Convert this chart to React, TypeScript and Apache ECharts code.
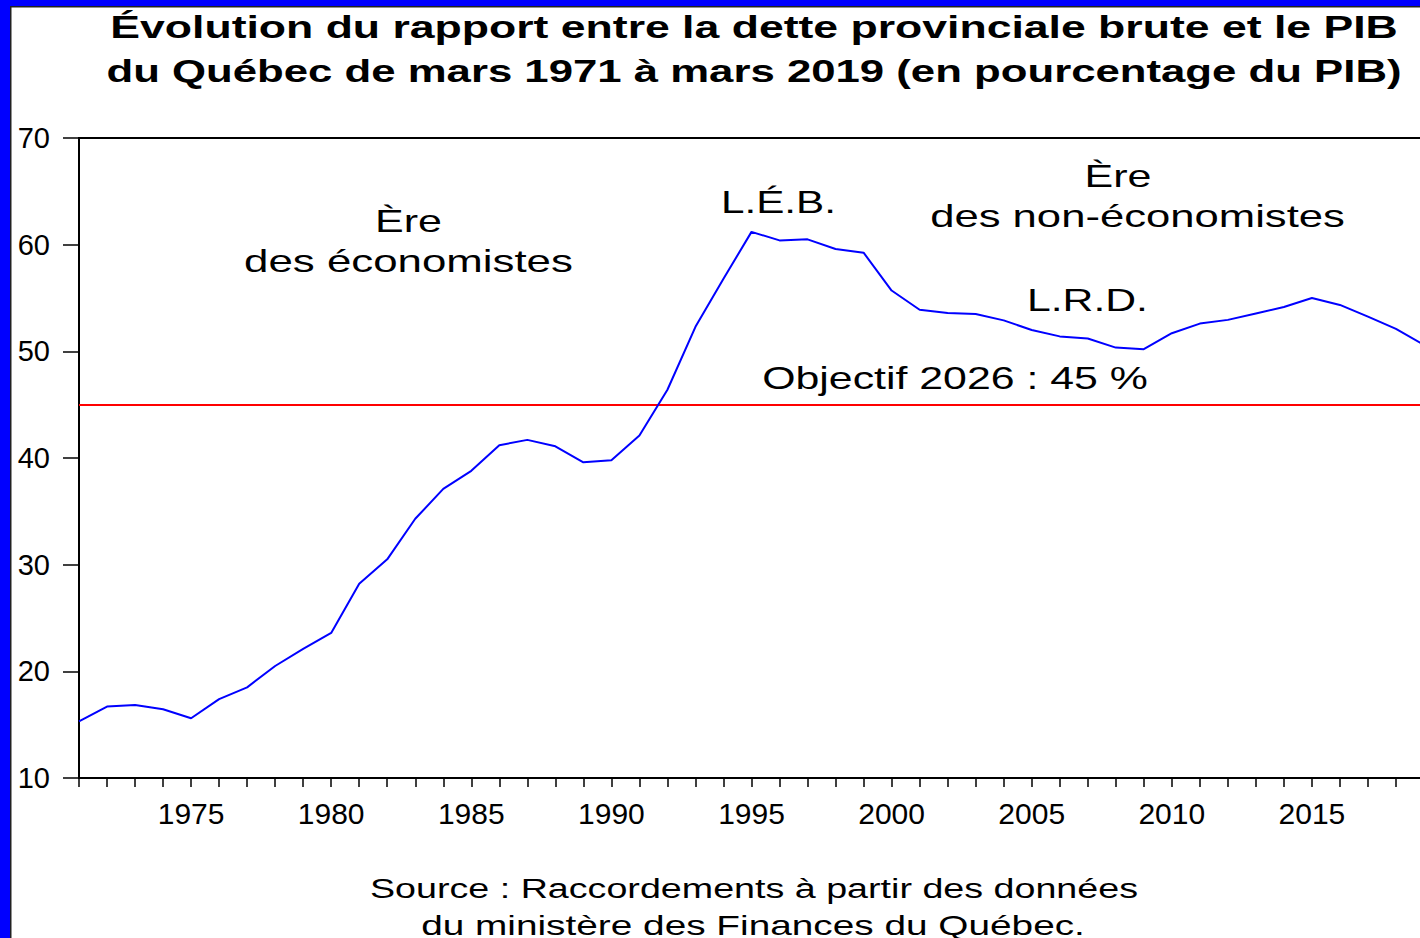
import React, { useEffect, useRef } from "react";
import * as echarts from "echarts";

const years: number[] = [];
for (let y = 1971; y <= 2019; y++) years.push(y);

const debtRatio: number[] = [
  15.3, 16.7, 16.85, 16.45, 15.6, 17.4, 18.5, 20.5, 22.1, 23.6,
  28.2, 30.5, 34.3, 37.1, 38.8, 41.2, 41.7, 41.1, 39.6, 39.8,
  42.1, 46.4, 52.3, 56.8, 61.2, 60.4, 60.5, 59.6, 59.25, 55.7,
  53.9, 53.6, 53.5, 52.9, 52.0, 51.4, 51.2, 50.35, 50.2, 51.7,
  52.6, 52.95, 53.55, 54.15, 55.0, 54.35, 53.25, 52.1, 50.6,
];

const target2026 = 45;

const titleLines = [
  "Évolution du rapport entre la dette provinciale brute et le PIB",
  "du Québec de mars 1971 à mars 2019 (en pourcentage du PIB)",
];
const sourceLines = [
  "Source : Raccordements à partir des données",
  "du ministère des Finances du Québec.",
];

const FONT = '"Liberation Sans", Arial, sans-serif';
const CHART_W = 1430;

function measure(text: string, size: number, weight: string) {
  const c = document.createElement("canvas").getContext("2d");
  if (!c) return text.length * size * 0.55;
  c.font = `${weight} ${size}px ${FONT}`;
  return c.measureText(text).width;
}

function stretchedText(
  text: string,
  cx: number,
  cy: number,
  width: number,
  size: number,
  weight = "normal"
) {
  const w = measure(text, size, weight);
  const s = w > 0 ? width / w : 1;
  return {
    type: "text",
    x: cx,
    y: cy,
    scaleX: s,
    z: 100,
    style: {
      text,
      fill: "#000",
      fontSize: size,
      fontWeight: weight,
      fontFamily: FONT,
      align: "center",
      verticalAlign: "middle",
      textAlign: "center",
      textVerticalAlign: "middle",
    },
  };
}

export default function App() {
  const ref = useRef<HTMLDivElement>(null);

  useEffect(() => {
    if (!ref.current) return;
    const chart = echarts.init(ref.current, null, { renderer: "svg" });
    const data = years.map((y, i) => [y, debtRatio[i]]);

    chart.setOption({
      animation: false,
      backgroundColor: "#ffffff",
      grid: {
        left: 79,
        top: 138,
        right: CHART_W - 1424,
        bottom: 160,
        show: true,
        borderColor: "#000",
        borderWidth: 2,
        backgroundColor: "transparent",
      },
      xAxis: {
        type: "value",
        min: 1971,
        max: 2019,
        interval: 1,
        axisLine: { show: true, onZero: false, lineStyle: { color: "#000", width: 2 } },
        axisTick: { show: true, inside: false, length: 9, lineStyle: { color: "#000", width: 1.5 } },
        axisLabel: {
          show: true,
          margin: 20,
          fontSize: 30,
          fontFamily: FONT,
          color: "#000",
          showMinLabel: true,
          showMaxLabel: true,
          formatter: (v: number) => (v % 5 === 0 ? String(v) : ""),
        },
        splitLine: { show: false },
      },
      yAxis: {
        type: "value",
        min: 10,
        max: 70,
        interval: 10,
        axisLine: { show: true, onZero: false, lineStyle: { color: "#000", width: 2 } },
        axisTick: { show: true, inside: false, length: 16, lineStyle: { color: "#000", width: 1.5 } },
        axisLabel: {
          margin: 29,
          fontSize: 29,
          fontFamily: FONT,
          color: "#000",
        },
        splitLine: { show: false },
      },
      series: [
        {
          type: "line",
          data,
          symbol: "none",
          lineStyle: { color: "#0000ff", width: 2 },
          z: 5,
          markLine: {
            silent: true,
            symbol: ["none", "none"],
            label: { show: false },
            lineStyle: { color: "#ff0000", width: 2, type: "solid" },
            data: [{ yAxis: target2026 }],
          },
        },
      ],
      graphic: [
        { type: "rect", shape: { x: 0, y: 0, width: 10, height: 938 }, style: { fill: "#0000ff" }, z: 200 },
        { type: "rect", shape: { x: 0, y: 0, width: CHART_W, height: 6 }, style: { fill: "#0000ff" }, z: 200 },
        { type: "rect", shape: { x: 10, y: 6, width: CHART_W - 10, height: 1.5 }, style: { fill: "#222" }, z: 200 },
        { type: "rect", shape: { x: 10, y: 6, width: 1.5, height: 932 }, style: { fill: "#222" }, z: 200 },
        stretchedText(titleLines[0], 754, 27, 1288, 31, "bold"),
        stretchedText(titleLines[1], 754, 71, 1296, 31, "bold"),
        stretchedText("Ère", 408.5, 221, 67, 32),
        stretchedText("des économistes", 408.5, 261, 329, 32),
        stretchedText("L.É.B.", 778.5, 202, 115, 32),
        stretchedText("Ère", 1118, 176, 67, 32),
        stretchedText("des non-économistes", 1137.5, 216, 415, 32),
        stretchedText("L.R.D.", 1087.5, 300, 121, 32),
        stretchedText("Objectif 2026 : 45 %", 955, 378, 386, 32),
        stretchedText(sourceLines[0], 754, 888, 768, 28),
        stretchedText(sourceLines[1], 753, 925, 664, 28),
      ],
    });

    return () => chart.dispose();
  }, []);

  return (
    <div
      style={{
        position: "absolute",
        left: 0,
        top: 0,
        width: 1420,
        height: 938,
        background: "#fff",
        overflow: "hidden",
      }}
    >
      <div ref={ref} style={{ width: CHART_W, height: 938 }} />
    </div>
  );
}
